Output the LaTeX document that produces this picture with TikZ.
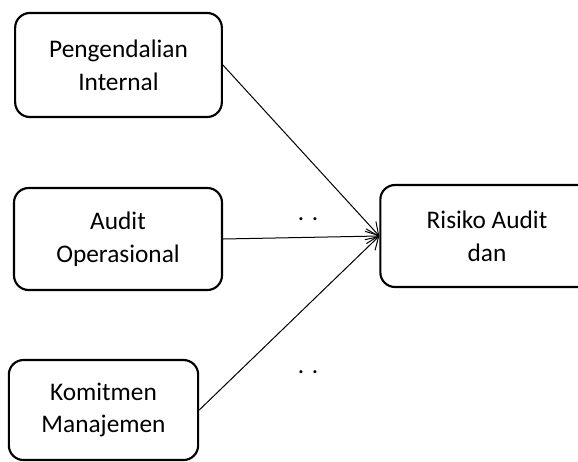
\documentclass[tikz,border=0pt]{standalone}
\usepackage{fontspec}
\setmainfont{Carlito}
\usetikzlibrary{arrows.meta,positioning}

\tikzset{
  varbox/.style={draw,line width=1.6pt,rounded corners=11pt,align=center,
    inner sep=0pt,font=\fontsize{19}{24.5}\selectfont},
  link/.style={line width=0.75pt,-{Straight Barb[length=9pt,width=11pt,line width=0.75pt]}}
}

\begin{document}
\begin{tikzpicture}[x=0.75pt,y=-0.75pt]
  \useasboundingbox (0,0) rectangle (578,461);

  % Independent variables
  \node[varbox,minimum width=155pt,minimum height=78pt] (pi) at (118.5,65)
    {Pengendalian\\Internal};
  \node[varbox,minimum width=156pt,minimum height=76.5pt] (ao) at (118,239)
    {Audit\\Operasional};
  \node[varbox,minimum width=142pt,minimum height=75pt] (km) at (103.5,410)
    {Komitmen\\Manajemen};

  % Dependent variable
  \node[varbox,minimum width=160pt,minimum height=76.5pt] (ra) at (487,236)
    {Risiko Audit\\dan};

  % Arrows
  \foreach \v in {pi,ao,km}{
    \draw[link] (\v.east) -- (ra.west);
  }

  % Dots near the arrows
  \node[font=\fontsize{19}{24.5}\selectfont] (d1) at (308,219) {. .};
  \node[font=\fontsize{19}{24.5}\selectfont] (d2) at (308,372) {. .};
\end{tikzpicture}
\end{document}
